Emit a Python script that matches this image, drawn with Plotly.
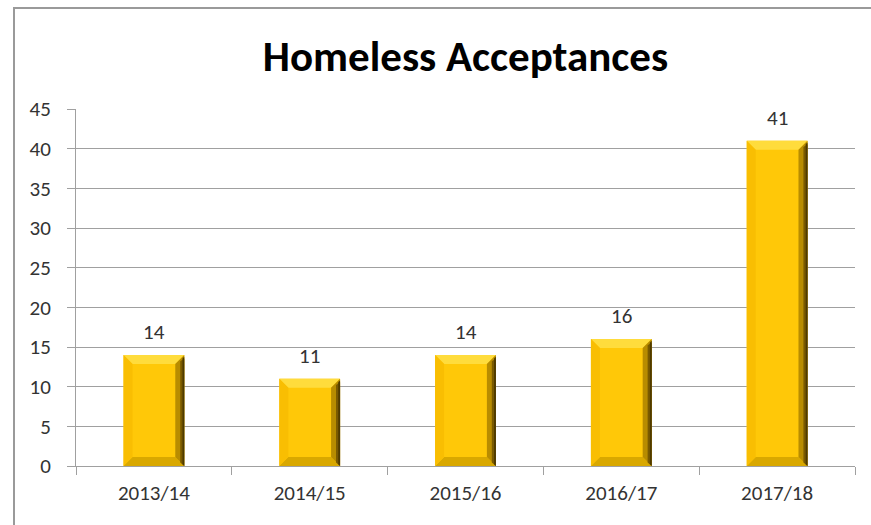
import plotly.graph_objects as go

categories = ["2013/14", "2014/15", "2015/16", "2016/17", "2017/18"]
values = [14, 11, 14, 16, 41]
title_text = "Homeless Acceptances"

W, H = 871, 525
L, R, T, B = 76, 16, 109, 59
pw, ph = W - L - R, H - T - B
ymax = 45
bar_frac = 0.39

fig = go.Figure()
fig.add_trace(go.Bar(
    x=categories, y=values, width=bar_frac,
    marker=dict(color="#FFC808", line=dict(width=0)),
    hoverinfo="x+y",
))

# bevel geometry in data units
px_per_cat = pw / len(categories)
px_per_unit = ph / ymax
bx = 9 / px_per_cat
by = 9 / px_per_unit
bx2 = 3 / px_per_cat
shapes = []
for i, v in enumerate(values):
    xl, xr = i - bar_frac / 2, i + bar_frac / 2
    def poly(pts, col):
        d = "M " + " L ".join(f"{x},{y}" for x, y in pts) + " Z"
        shapes.append(dict(type="path", path=d, xref="x", yref="y",
                           fillcolor=col, line=dict(width=0), layer="above"))
    poly([(xl, v), (xr, v), (xr - bx, v - by), (xl + bx, v - by)], "#FFDC3C")
    poly([(xl, 0), (xr, 0), (xr - bx, by), (xl + bx, by)], "#D9A800")
    poly([(xl, v), (xl, 0), (xl + bx, by), (xl + bx, v - by)], "#F9BE02")
    poly([(xr, v), (xr, 0), (xr - bx, by), (xr - bx, v - by)], "#B88C00")
    poly([(xr, v - by * 0.4), (xr, 0), (xr - bx * 0.45, by * 0.4), (xr - bx * 0.45, v - by * 0.7)], "#7A5A00")
    poly([(xr, v - by * 0.2), (xr, 0), (xr - bx2 * 0.6, by * 0.2), (xr - bx2 * 0.6, v - by * 0.4)], "#4E3A00")

# chart border (partially cropped in original)
shapes.append(dict(type="rect", xref="paper", yref="paper",
                   x0=(14 - L) / pw, x1=(W + 20 - L) / pw,
                   y0=-(H + 20 - T - ph) / ph, y1=(H - 8 - B) / ph,
                   line=dict(color="#9A9A9A", width=2), layer="below"))

annotations = []
for i, v in enumerate(values):
    annotations.append(dict(x=categories[i], y=v, text=str(v), showarrow=False,
                            yanchor="middle", yshift=23,
                            font=dict(family="Carlito, Lato, sans-serif", size=21, color="#333333")))

fig.update_layout(
    width=W, height=H,
    margin=dict(l=L, r=R, t=T, b=B),
    paper_bgcolor="white", plot_bgcolor="white",
    title=dict(text="<b>" + title_text + "</b>", x=0.5, xref="paper", y=1 - 56 / H, yanchor="middle",
               xanchor="center",
               font=dict(family="Carlito, Lato, sans-serif", size=43, color="#000000")),
    showlegend=False,
    bargap=1 - bar_frac,
    shapes=shapes,
    annotations=annotations,
    xaxis=dict(type="category", showline=True, linecolor="#A0A0A0", linewidth=1,
               ticks="outside", tickson="boundaries", ticklen=8, tickcolor="#A0A0A0",
               showgrid=False, ticklabelstandoff=8,
               tickfont=dict(family="Carlito, Lato, sans-serif", size=21, color="#333333")),
    yaxis=dict(range=[0, ymax], dtick=5, showline=True, linecolor="#A0A0A0", linewidth=1,
               ticks="outside", ticklen=8, tickcolor="#A0A0A0",
               showgrid=True, gridcolor="#A0A0A0", gridwidth=1, zeroline=False,
               ticklabelstandoff=12,
               tickfont=dict(family="Carlito, Lato, sans-serif", size=21, color="#333333")),
)

fig.write_html("out.html")
